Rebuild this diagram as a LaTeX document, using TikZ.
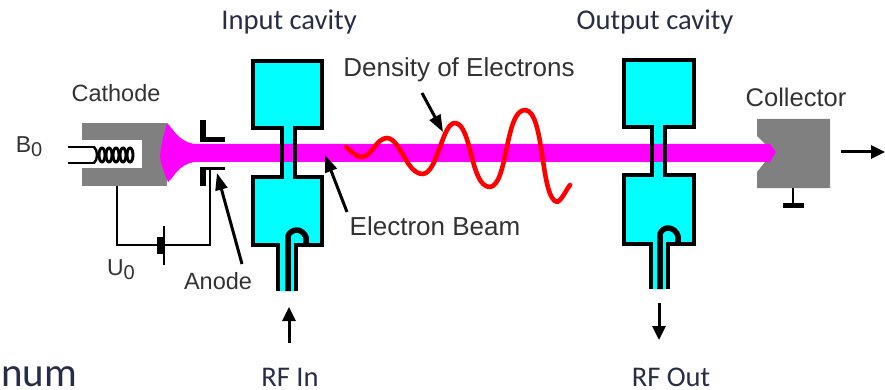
\documentclass[tikz,border=0pt]{standalone}
\usepackage{fontspec}
\setmainfont{Liberation Sans}
\newfontfamily\hdfont{Carlito}
\usetikzlibrary{arrows.meta}
\definecolor{beam}{RGB}{255,0,255}
\definecolor{cav}{RGB}{0,255,255}
\definecolor{bodygray}{RGB}{128,128,128}
\definecolor{txt}{RGB}{50,50,50}
\definecolor{hdtxt}{RGB}{40,45,70}
\tikzset{x=1pt,y=-1pt,
 wire/.style={draw=black,line width=2.4pt},
 cavwall/.style={draw=black,line width=3.2pt,line join=miter},
 lbl/.style={font=\fontsize{#1}{28}\selectfont,text=txt,inner sep=0pt},
 hd/.style={font=\hdfont\fontsize{#1}{28}\selectfont,text=hdtxt,inner sep=0pt},
 pointer/.style={draw=black,line width=3pt,-{Triangle[length=17pt,width=12pt]}},
 blockarrow/.style={draw=black,line width=3pt,-{Triangle[length=14pt,width=13pt]}}}
\begin{document}
\begin{tikzpicture}
\useasboundingbox (0,0) rectangle (885,390);
% cavity fills
\fill[cav] (253,61) rectangle (322,128) (282,128) rectangle (295,177) (253,177) rectangle (322,245) (278,245) rectangle (296,291);
\fill[cav] (624,60) rectangle (694,127) (652,127) rectangle (665,175) (624,175) rectangle (694,244) (651,244) rectangle (668,289);
% cathode
\fill[bodygray] (82,123) rectangle (167,186);
\fill[white] (82,140) rectangle (142,168);
% collector
\fill[bodygray] (757,119) -- (830,119) -- (830,188) -- (757,188) -- (757,172) -- (773,152) -- (757,136) -- cycle;
% beam
\fill[beam] (167,123) .. controls (172,127) and (178,142) .. (195,144) -- (770,144) -- (776,152) -- (770,162) -- (195,162) .. controls (178,164) and (174,178) .. (168,182) .. controls (164,172) and (160,162) .. (160,155) .. controls (161,146) and (164,134) .. (167,123) -- cycle;
% collector ground and output
\coordinate (collB) at (793,188);
\coordinate (collT) at (793,203);
\draw[wire] (collB) -- (collT);
\draw[line width=5pt] (783,205) -- (804,205);
\coordinate (outA) at (841,152);
\coordinate (outB) at (885,152);
\draw[blockarrow] (outA) -- (outB);
% filament
\draw[wire] (68,147) -- (95,147) (68,163) -- (95,163);
\draw[wire] (94,147) .. controls (98,150) and (98,160) .. (94,163);
\foreach \x in {102,109,116,123,130}{\draw[line width=2.9pt] (\x,155) ellipse (3pt and 7pt);}
% anode
\draw[line width=5.5pt] (203,120) -- (203,139.5) -- (225,139.5);
\draw[line width=5.5pt] (203,168) -- (203,186);
\draw[line width=3.2pt] (200,168.5) -- (225,168.5);
\coordinate (cathB) at (117,186);
\coordinate (batL) at (160,245);
\coordinate (batR) at (164,245);
\coordinate (anT) at (210,168);
\draw[wire] (cathB) -- (117,245) -- (batL);
\draw[wire] (batR) -- (210,245) -- (anT);
\draw[line width=6pt] (160,237) -- (160,254);
\draw[line width=1.8pt] (164,226) -- (164,265);
% input cavity walls
\draw[cavwall] (278,291) -- (278,245) -- (253,245) -- (253,177) -- (282,177) -- (282,128) -- (253,128) -- (253,61) -- (322,61) -- (322,128) -- (295,128) -- (295,177) -- (322,177) -- (322,245) -- (296,245) -- (296,291);
\draw[line width=5.5pt,line join=round] (288,291) -- (288,236) .. controls (289,232) and (294,230) .. (297,230) .. controls (301,230) and (305,234) .. (306,237) -- (306,245);
% output cavity walls
\draw[cavwall] (651,289) -- (651,244) -- (624,244) -- (624,175) -- (652,175) -- (652,127) -- (624,127) -- (624,60) -- (694,60) -- (694,127) -- (665,127) -- (665,175) -- (694,175) -- (694,244) -- (668,244) -- (668,289);
\draw[line width=5.5pt,line join=round] (660,289) -- (660,234) .. controls (661,230) and (665,228) .. (668,228) .. controls (673,228) and (677,232) .. (678,236) -- (678,244);
% wave
\draw[red,line width=4.6pt,line cap=round,line join=round] (346,147) .. controls (352,152) and (357,158) .. (363,157) .. controls (372,155) and (377,138) .. (387,138) .. controls (401,139) and (406,174) .. (423,174) .. controls (438,172) and (442,123) .. (455,123) .. controls (472,124) and (470,187) .. (490,187) .. controls (508,185) and (505,110) .. (525,110) .. controls (545,111) and (540,198) .. (557,202) .. controls (562,200) and (566,190) .. (570,185);
% labels
\node[hd=28.6] (inL) at (289,22) {Input cavity};
\node[hd=28.6] (outL) at (655,22) {Output cavity};
\node[lbl=23.5] (cathL) at (116,93) {Cathode};
\node[lbl=23] (b0) at (29,147) {B\raisebox{-4pt}{\fontsize{20}{20}\selectfont 0}};
\node[lbl=23] (u0) at (121,270) {U\raisebox{-4pt}{\fontsize{20}{20}\selectfont 0}};
\node[lbl=23.5] (anodeL) at (218,281) {Anode};
\node[lbl=26] (denL) at (459,70) {Density of Electrons};
\node[lbl=26] (beamL) at (435,226) {Electron Beam};
\node[lbl=25.5] (collL) at (796,97) {Collector};
\node[hd=28.5] (rfi) at (290,377) {RF In};
\node[hd=28.5] (rfo) at (671,377) {RF Out};
\node[font=\hdfont\fontsize{41}{41}\selectfont,anchor=base west,inner sep=0pt,text=hdtxt] (num) at (1,386) {num};
% pointers
\coordinate (p1) at (242,264); \coordinate (p1e) at (217,173);
\draw[pointer] (p1) -- (p1e);
\coordinate (p2) at (347,212); \coordinate (p2e) at (325,155);
\draw[pointer] (p2) -- (p2e);
\coordinate (p3) at (422,93); \coordinate (p3e) at (443,132);
\draw[pointer] (p3) -- (p3e);
\coordinate (p4) at (289,343); \coordinate (p4e) at (289,307);
\draw[blockarrow] (p4) -- (p4e);
\coordinate (p5) at (659,303); \coordinate (p5e) at (659,340);
\draw[blockarrow] (p5) -- (p5e);
\end{tikzpicture}
\end{document}
